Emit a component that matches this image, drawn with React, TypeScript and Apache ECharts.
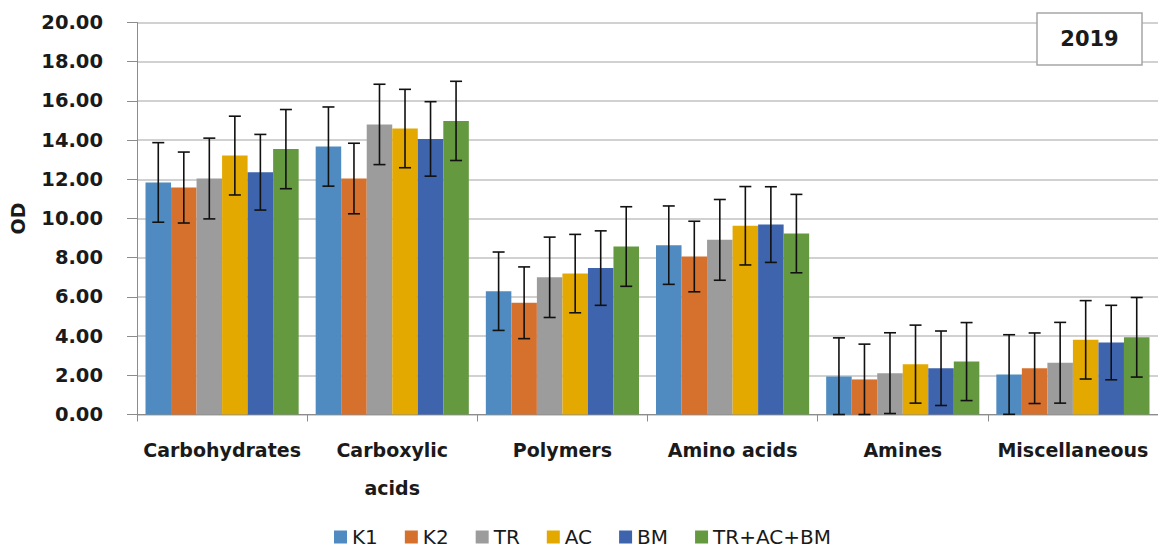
import React, { useEffect, useRef } from "react";
import * as echarts from "echarts";

// Substrate groups on the x axis
const categories = [
  "Carbohydrates",
  "Carboxylic\nacids",
  "Polymers",
  "Amino acids",
  "Amines",
  "Miscellaneous",
];

// Treatment names (legend order)
const seriesNames = ["K1", "K2", "TR", "AC", "BM", "TR+AC+BM"];

// Mean OD per substrate group
const k1 = [11.84, 13.67, 6.29, 8.64, 1.94, 2.04];
const k2 = [11.58, 12.04, 5.7, 8.06, 1.79, 2.36];
const tr = [12.04, 14.8, 7.0, 8.91, 2.11, 2.64];
const ac = [13.21, 14.59, 7.19, 9.63, 2.57, 3.81];
const bm = [12.36, 14.06, 7.47, 9.69, 2.36, 3.67];
const combo = [13.54, 14.98, 8.57, 9.23, 2.7, 3.94];

// Standard deviation per bar
const k1Err = [2.03, 2.02, 2.0, 2.0, 1.97, 2.03];
const k2Err = [1.81, 1.8, 1.83, 1.8, 1.8, 1.8];
const trErr = [2.06, 2.05, 2.05, 2.06, 2.06, 2.06];
const acErr = [2.01, 2.0, 2.0, 2.0, 1.99, 2.0];
const bmErr = [1.93, 1.9, 1.9, 1.93, 1.9, 1.9];
const comboErr = [2.02, 2.02, 2.03, 2.0, 1.99, 2.03];

const colors = ["#4F8BC0", "#D5702D", "#9C9C9C", "#E3A900", "#3D64AD", "#64993F"];

const values = [k1, k2, tr, ac, bm, combo];
const errors = [k1Err, k2Err, trErr, acErr, bmErr, comboErr];

const FONT = "DejaVu Sans";
const TEXT = "#1a1a1a";
const CATEGORY_GAP = 0.1;

export default function App() {
  const ref = useRef<HTMLDivElement>(null);

  useEffect(() => {
    if (!ref.current) return;
    const chart = echarts.init(ref.current, undefined, { renderer: "svg" });

    const errorData: number[][] = [];
    values.forEach((vals, s) => {
      vals.forEach((v, c) => errorData.push([c, s, v, errors[s][c]]));
    });

    const barSeries = seriesNames.map((name, i) => ({
      name,
      type: "bar",
      data: values[i],
      barGap: "0%",
      barCategoryGap: CATEGORY_GAP * 100 + "%",
      itemStyle: { color: colors[i] },
    }));

    const errorSeries = {
      type: "custom",
      name: "error",
      silent: true,
      z: 10,
      data: errorData,
      encode: { x: 0, y: 2 },
      renderItem: (params: any, api: any) => {
        const c = api.value(0);
        const s = api.value(1);
        const v = api.value(2);
        const e = api.value(3);
        const center = api.coord([c, v]);
        const band = api.size([1, 0])[0];
        const barW = (band * (1 - CATEGORY_GAP)) / seriesNames.length;
        const x = center[0] + (s - (seriesNames.length - 1) / 2) * barW;
        const yTop = api.coord([c, v + e])[1];
        const yBot = api.coord([c, Math.max(0, v - e)])[1];
        const cap = 6;
        const style = { stroke: "#111", lineWidth: 1.6 };
        return {
          type: "group",
          children: [
            { type: "line", shape: { x1: x, y1: yTop, x2: x, y2: yBot }, style },
            { type: "line", shape: { x1: x - cap, y1: yTop, x2: x + cap, y2: yTop }, style },
            { type: "line", shape: { x1: x - cap, y1: yBot, x2: x + cap, y2: yBot }, style },
          ],
        };
      },
    };

    chart.setOption({
      animation: false,
      grid: { left: 133, top: 22.5, width: 1029, height: 392 },
      legend: {
        data: seriesNames,
        left: 334,
        top: 527,
        icon: "rect",
        itemWidth: 13,
        itemHeight: 13,
        itemGap: 27,
        padding: 0,
        textStyle: { fontFamily: FONT, fontSize: 20, color: TEXT, lineHeight: 20 },
      },
      xAxis: {
        type: "category",
        data: categories,
        axisLine: { lineStyle: { color: "#8c8c8c", width: 1 } },
        axisTick: { show: true, length: 7, lineStyle: { color: "#8c8c8c" } },
        axisLabel: {
          interval: 0,
          margin: 16,
          fontFamily: FONT,
          fontSize: 19,
          fontWeight: "bold",
          color: TEXT,
          lineHeight: 38,
        },
      },
      yAxis: {
        type: "value",
        min: 0,
        max: 20,
        interval: 2,
        name: "OD",
        nameLocation: "middle",
        nameGap: 110,
        nameTextStyle: { fontFamily: FONT, fontSize: 19, fontWeight: "bold", color: TEXT },
        axisLine: { show: true, lineStyle: { color: "#8c8c8c", width: 1 } },
        axisTick: { show: true, length: 10, lineStyle: { color: "#8c8c8c" } },
        axisLabel: {
          margin: 34,
          fontFamily: FONT,
          fontSize: 19.5,
          fontWeight: "bold",
          color: TEXT,
          formatter: (v: number) => v.toFixed(2),
        },
        splitLine: { lineStyle: { color: "#c2c2c2", width: 1.5 } },
      },
      graphic: [
        {
          type: "rect",
          shape: { x: 1037, y: 13, width: 105, height: 52 },
          style: { fill: "#fff", stroke: "#a6a6a6", lineWidth: 1.5 },
          z: 100,
        },
        {
          type: "text",
          x: 1089.5,
          y: 39,
          style: {
            text: "2019",
            fontFamily: FONT,
            fontSize: 21,
            fontWeight: "bold",
            fill: TEXT,
            align: "center",
            verticalAlign: "middle",
          },
          z: 101,
        },
      ],
      series: [...barSeries, errorSeries],
    });

    return () => chart.dispose();
  }, []);

  return (
    <div
      ref={ref}
      style={{ position: "fixed", left: 0, top: 0, width: 1158, height: 548, background: "#fff" }}
    />
  );
}
